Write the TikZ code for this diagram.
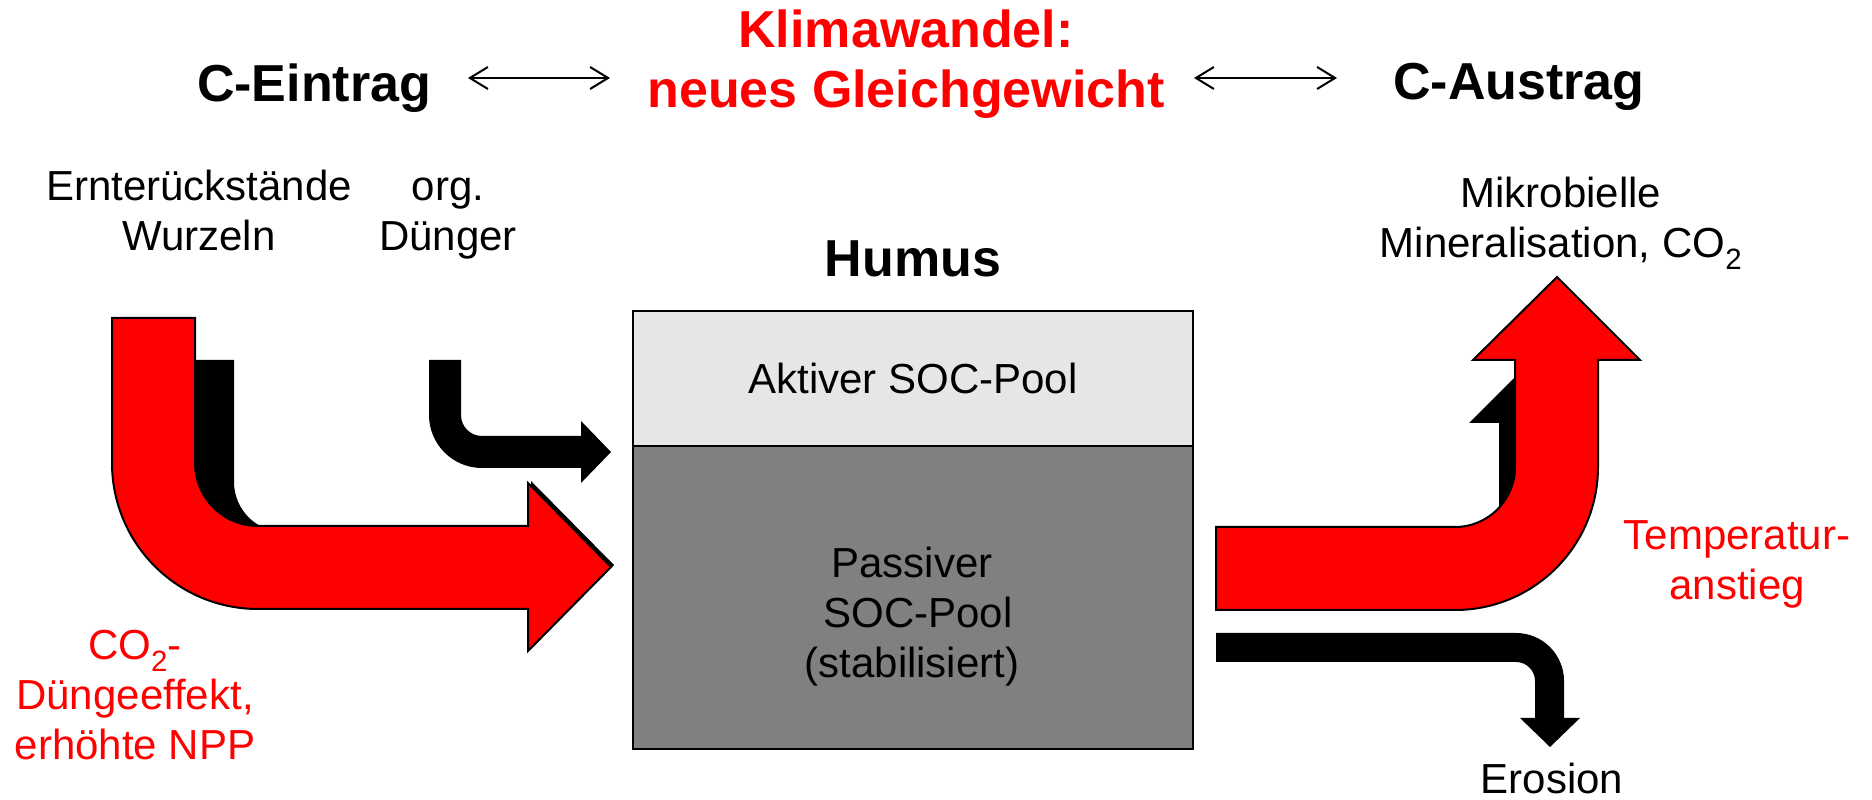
\documentclass[tikz,border=0pt]{standalone}
\usepackage{fontspec}
\setmainfont{Liberation Sans}
\usetikzlibrary{positioning,arrows.meta}
\definecolor{aktivgray}{HTML}{E6E6E6}
\definecolor{passivgray}{HTML}{808080}

\begin{document}
\begin{tikzpicture}[x=1pt,y=1pt]
        \tikzstyle{every node}=[inner sep=0pt, align=center]
        \tikzstyle{txt}=[font=\fontsize{42}{50}\selectfont]
        \tikzstyle{head}=[font=\fontsize{52}{60}\selectfont\bfseries]
        \tikzstyle{pool}=[draw, line width=2pt, minimum width=560pt]
        \tikzstyle{redflow}=[fill=red, draw=black, line width=2pt]
        \tikzstyle{blackflow}=[fill=black]
        \tikzstyle{dbl}=[line width=2pt, {Straight Barb[length=18pt,width=22pt]}-{Straight Barb[length=18pt,width=22pt]}]

        \useasboundingbox (0,0) rectangle (1872,800);

        \node (klima) [head, text=red, anchor=base] at (906,692) {Klimawandel:\\neues Gleichgewicht};
        \node (eintrag) [head, anchor=base] at (314,698) {C-Eintrag};
        \node (austrag) [head, anchor=base] at (1519,700) {C-Austrag};

        \coordinate (l1) at (468,722);
        \coordinate (l2) at (610,722);
        \coordinate (r1) at (1194,722);
        \coordinate (r2) at (1337,722);
        \draw[dbl] (l1) -- (l2);
        \draw[dbl] (r1) -- (r2);

        \node (ernte) [txt, anchor=base] at (199,549) {Ernterückstände\\Wurzeln};
        \node (org) [txt, anchor=base] at (448,549) {org.\\Dünger};
        \node (mikro) [txt, anchor=base] at (1561,542) {Mikrobielle\\Mineralisation, CO\textsubscript{2}};

        \node (aktiv) [pool, txt, fill=aktivgray, minimum height=135pt] at (913,421.5) {Aktiver SOC-Pool};
        \node (passiv) [pool, fill=passivgray, minimum height=303pt] at (913,202.5) {};
        \node (humus) [head, above=33pt of aktiv] {Humus};
        \node (passivtext) [txt, anchor=base] at (912,122) {Passiver\\\hspace*{.28em}SOC-Pool\\(stabilisiert)};

        \node (co2) [txt, text=red, anchor=base] at (135,40) {CO\textsubscript{2}-\\Düngeeffekt,\\erhöhte NPP};
        \node (temp) [txt, text=red, anchor=base] at (1737,200) {Temperatur-\\anstieg};
        \node (erosion) [txt, anchor=base] at (1552,6) {Erosion};

        \fill[blackflow] (159,440) -- (234,440) -- (234,318) arc (180:270:50) -- (531,268) -- (531,319) -- (614,235) -- (531,151) -- (531,193) -- (284,193) arc (270:180:125) -- cycle;
        \draw[redflow] (112,482) -- (195,482) -- (195,337) arc (180:270:63) -- (528,274) -- (528,317) -- (611,233) -- (528,149) -- (528,191) -- (258,191) arc (270:180:146) -- cycle;
        \fill[blackflow] (429,440) -- (461,440) -- (461,385) arc (180:270:21) -- (581,364) -- (581,379) -- (611,348) -- (581,317) -- (581,332) -- (482,332) arc (270:180:53) -- cycle;

        \fill[blackflow] (1220,266) -- (1479,266) arc (270:360:20) -- (1499,377) -- (1469,377) -- (1532,440) -- (1595,377) -- (1565,377) -- (1565,286) arc (0:-90:86) -- (1220,200) -- cycle;
        \draw[redflow] (1216,273) -- (1455,273) arc (270:360:60) -- (1515,440) -- (1473,440) -- (1557,523) -- (1640,440) -- (1598,440) -- (1598,333) arc (0:-90:143) -- (1216,190) -- cycle;
        \fill[blackflow] (1216,167) -- (1516,167) arc (90:0:48) -- (1564,82) -- (1580,82) -- (1550,53) -- (1520,82) -- (1535,82) -- (1535,119) arc (0:90:19) -- (1216,138) -- cycle;
\end{tikzpicture}
\end{document}
